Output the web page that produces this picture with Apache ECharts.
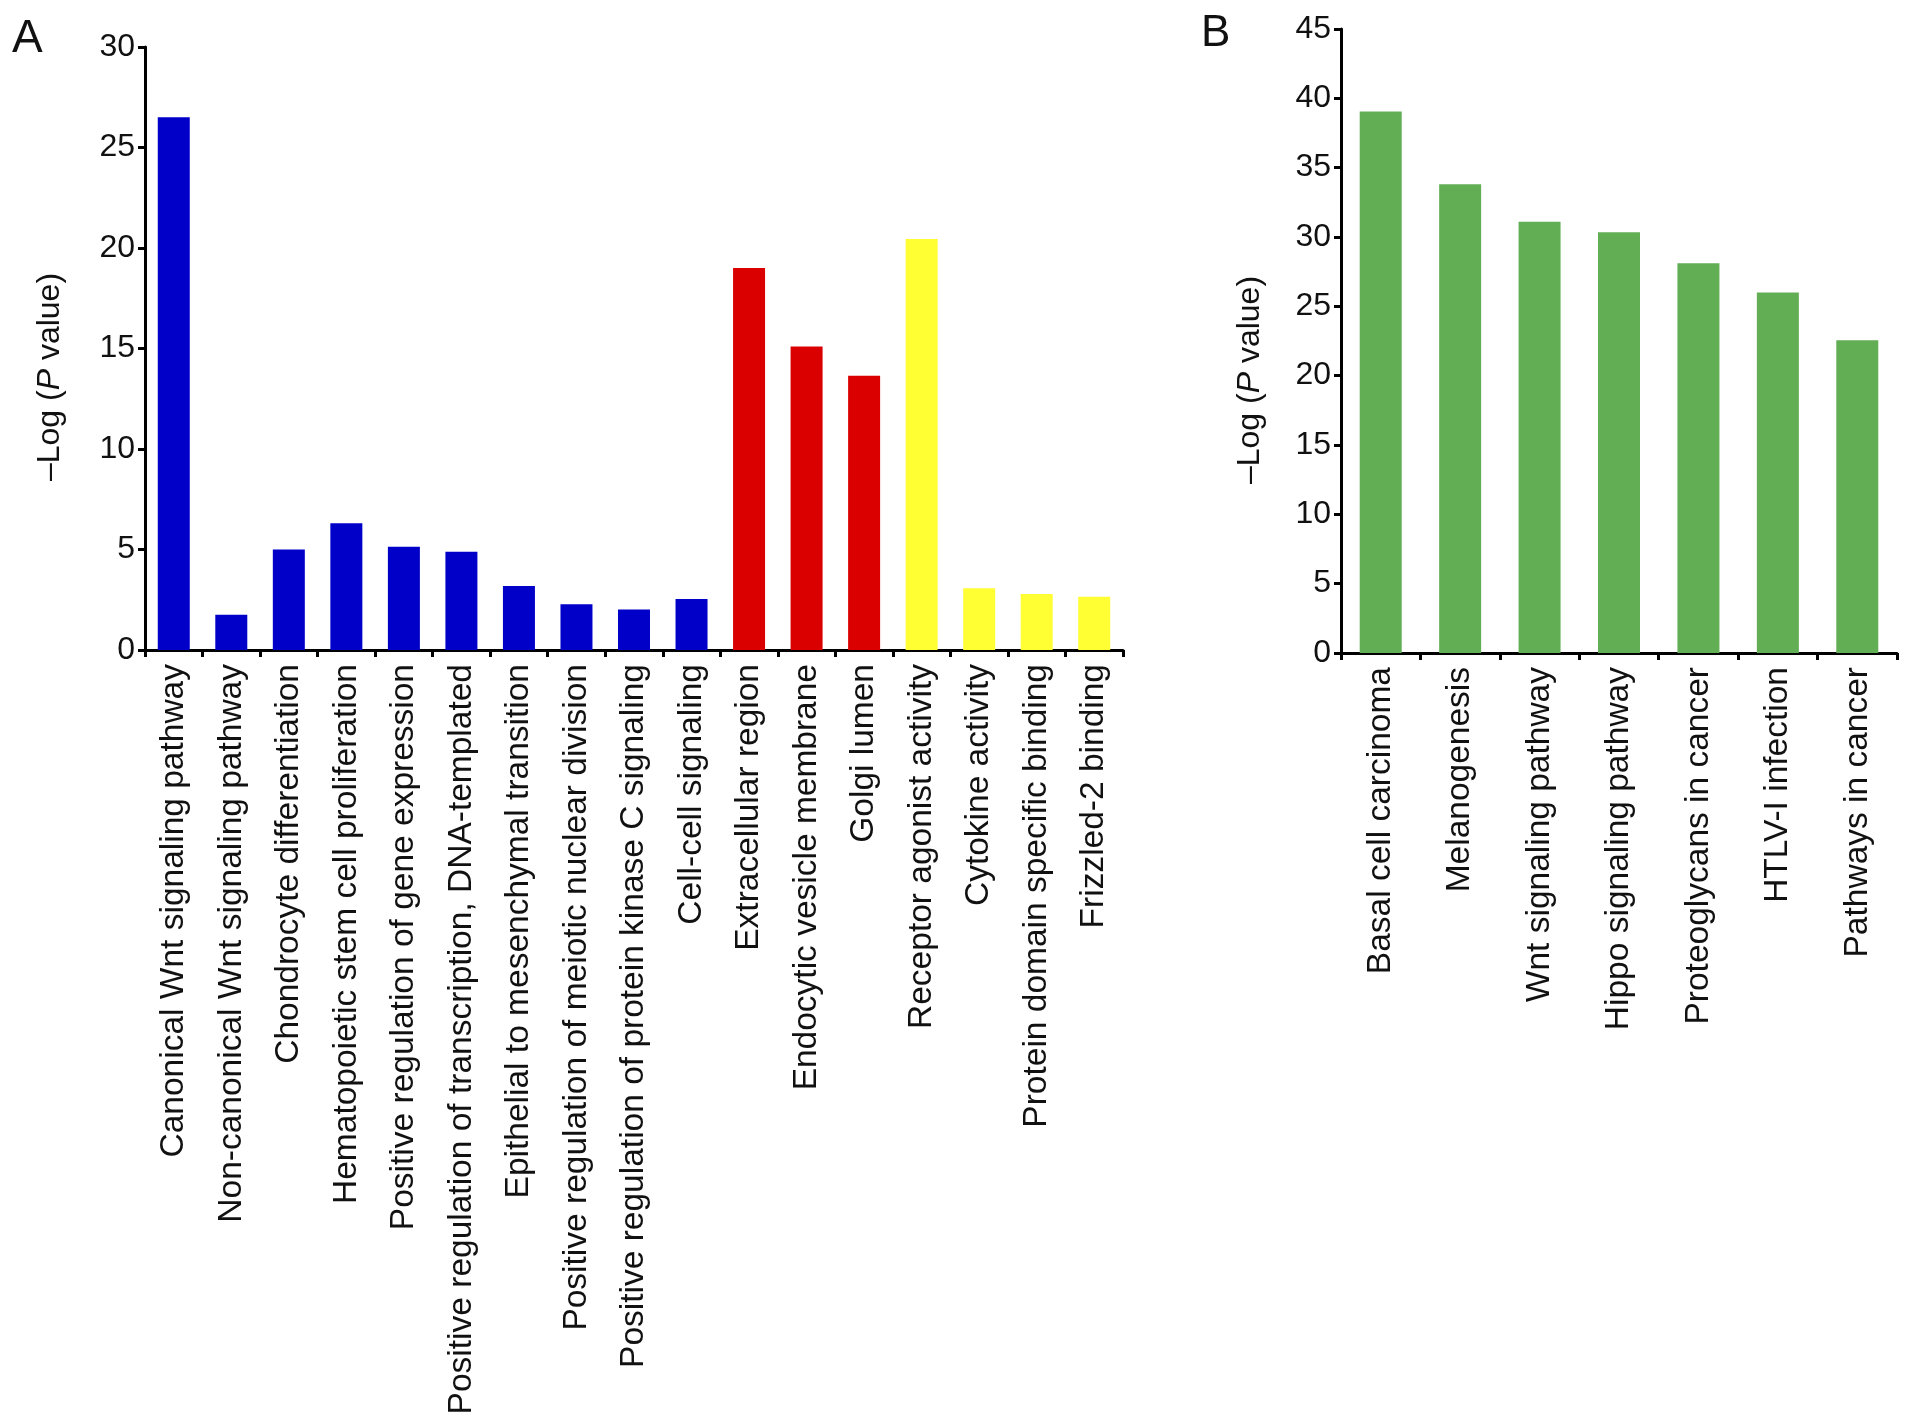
<!DOCTYPE html>
<html>
<head>
<meta charset="utf-8">
<script src="https://cdn.jsdelivr.net/npm/echarts@6/dist/echarts.min.js"></script>
<style>
html,body{margin:0;padding:0;background:#fff;}
#chart{width:1913px;height:1427px;}
</style>
</head>
<body>
<div id="chart"></div>
<script>
// ---- Data ----
var categoriesA = [
  'Canonical Wnt signaling pathway',
  'Non-canonical Wnt signaling pathway',
  'Chondrocyte differentiation',
  'Hematopoietic stem cell proliferation',
  'Positive regulation of gene expression',
  'Positive regulation of transcription, DNA-templated',
  'Epithelial to mesenchymal transition',
  'Positive regulation of meiotic nuclear division',
  'Positive regulation of protein kinase C signaling',
  'Cell-cell signaling',
  'Extracellular region',
  'Endocytic vesicle membrane',
  'Golgi lumen',
  'Receptor agonist activity',
  'Cytokine activity',
  'Protein domain specific binding',
  'Frizzled-2 binding'
];
var valuesA = [26.5, 1.75, 5.0, 6.3, 5.14, 4.89, 3.18, 2.27, 2.02, 2.54, 19.0, 15.1, 13.65, 20.45, 3.07, 2.79, 2.65];
var groupsA = ['BP','BP','BP','BP','BP','BP','BP','BP','BP','BP','CC','CC','CC','MF','MF','MF','MF'];
var groupColors = { BP: '#0000C8', CC: '#DA0000', MF: '#FFFF33' };

var categoriesB = [
  'Basal cell carcinoma',
  'Melanogenesis',
  'Wnt signaling pathway',
  'Hippo signaling pathway',
  'Proteoglycans in cancer',
  'HTLV-I infection',
  'Pathways in cancer'
];
var valuesB = [39.05, 33.8, 31.1, 30.35, 28.1, 26.0, 22.55];
var colorB = '#62AE55';

var yTicksA = { min: 0, max: 30, interval: 5 };
var yTicksB = { min: 0, max: 45, interval: 5 };

// ---- Chart ----
var FONT = '"Liberation Sans", Arial, Helvetica, sans-serif';
var chart = echarts.init(document.getElementById('chart'), null, { renderer: 'canvas' });

function xAxisCfg(gridIndex, cats) {
  return {
    type: 'category', gridIndex: gridIndex, data: cats,
    axisLine: { show: true, lineStyle: { color: '#000', width: 3 } },
    axisTick: { show: true, length: 7, lineStyle: { color: '#000', width: 3 } },
    axisLabel: { rotate: 90, interval: 0, margin: 14, color: '#111', fontSize: 33.5, fontFamily: FONT },
    splitLine: { show: false }
  };
}
function yAxisCfg(gridIndex, t) {
  return {
    type: 'value', gridIndex: gridIndex, min: t.min, max: t.max, interval: t.interval,
    axisLine: { show: true, lineStyle: { color: '#000', width: 3 } },
    axisTick: { show: true, length: 7, lineStyle: { color: '#000', width: 3 } },
    axisLabel: { margin: 10, color: '#111', fontSize: 32, fontFamily: FONT },
    splitLine: { show: false }
  };
}

var titleRich = {
  n: { fontSize: 32, fontFamily: FONT, fill: '#111' },
  i: { fontSize: 32, fontFamily: FONT, fontStyle: 'italic', fill: '#111' }
};

var option = {
  backgroundColor: '#fff',
  animation: false,
  grid: [
    { left: 145, top: 47, width: 978, height: 603, containLabel: false },
    { left: 1341, top: 29, width: 556, height: 624, containLabel: false }
  ],
  xAxis: [xAxisCfg(0, categoriesA), xAxisCfg(1, categoriesB)],
  yAxis: [yAxisCfg(0, yTicksA), yAxisCfg(1, yTicksB)],
  series: [
    {
      type: 'bar', xAxisIndex: 0, yAxisIndex: 0, barWidth: 32,
      data: valuesA.map(function (v, i) {
        return { value: v, itemStyle: { color: groupColors[groupsA[i]] } };
      })
    },
    {
      type: 'bar', xAxisIndex: 1, yAxisIndex: 1, barWidth: 42,
      itemStyle: { color: colorB },
      data: valuesB
    }
  ],
  graphic: [
    { type: 'text', left: 12, top: 16, style: { text: 'A', fontSize: 46, fontFamily: FONT, fill: '#111' } },
    { type: 'text', left: 1201, top: 12, style: { text: 'B', fontSize: 44, fontFamily: FONT, fill: '#111' } },
    { type: 'text', x: 50, y: 377, rotation: Math.PI / 2,
      style: { text: '{n|\u2013Log (}{i|P}{n| value)}', rich: titleRich, align: 'center', verticalAlign: 'middle', fontSize: 32, fontFamily: FONT } },
    { type: 'text', x: 1250, y: 380, rotation: Math.PI / 2,
      style: { text: '{n|\u2013Log (}{i|P}{n| value)}', rich: titleRich, align: 'center', verticalAlign: 'middle', fontSize: 32, fontFamily: FONT } }
  ]
};
chart.setOption(option);
</script>
</body>
</html>
